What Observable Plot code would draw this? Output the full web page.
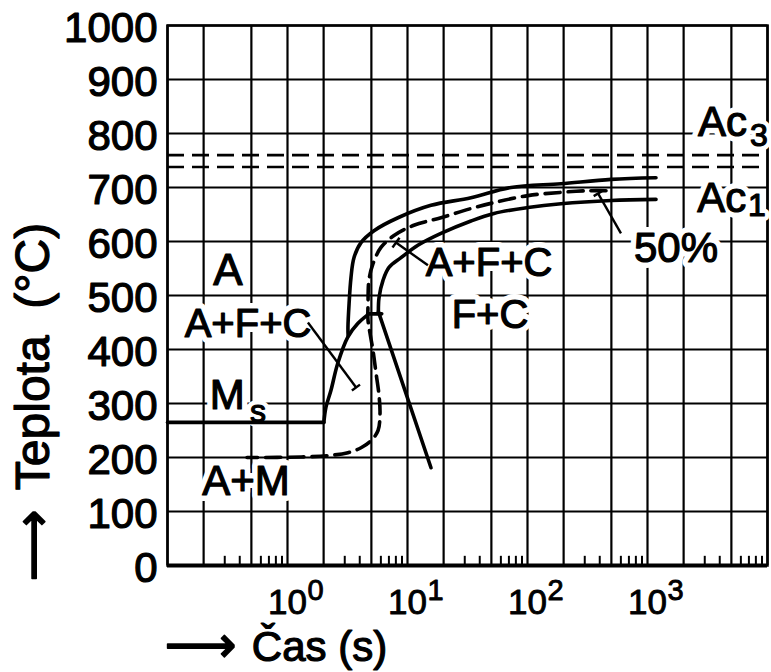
<!DOCTYPE html>
<html><head><meta charset="utf-8">
<script src="https://cdn.jsdelivr.net/npm/d3@7"></script>
<script src="https://cdn.jsdelivr.net/npm/@observablehq/plot@0.6"></script>
<style>body{margin:0;background:#fff}</style>
</head><body><div id="chart"></div>
<script>
// ---- axes ----
const tempTicks = [0,100,200,300,400,500,600,700,800,900,1000];
const timeGrid = [0.1,0.2,0.5,1,2,5,10,20,50,100,200,500,1000,2000,5000,10000];
const timeMinor = [0.3,0.4,0.6,0.7,0.8,0.9,3,4,6,7,8,9,30,40,60,70,80,90,300,400,600,700,800,900,3000,4000,6000,7000,8000,9000];
const decades = [1,10,100,1000];
const xTitle = "Čas (s)";
const yTitle = "Teplota\u00a0\u00a0(°C)";

// ---- critical temperatures ----
const Ac3 = 760, Ac1 = 738, Ms = 265;
const msTime = [0.1, 2.01];

// ---- transformation start (solid) ----
const startTime = [1177,497,190,72.9,33.8,15.7,8.33,5.26,4.10,3.58,3.38,3.26,3.19,3.2];
const startTemp = [718,715,707,700,681,667,644,620,598,570,533,485,441,425];

// ---- 50 % transformation (dashed) ----
const halfTime = [451,319,190,101,52.6,33.8,19.0,11.3,7.72,6.01,5.16,4.77,4.69,4.69,4.87,5.16,5.47,5.79,5.90,5.68,4.96,4.10,3.19,2.30,1.30,0.46];
const halfTemp = [694,694,691,685,672,661,644,630,611,589,559,528,485,454,430,398,356,315,281,250,231,218,209,204,201,200];

// ---- transformation end (solid) ----
const endTime = [1177,497,190,101,52.6,33.8,19.0,12.2,8.83,7.01,6.25,5.79,5.72];
const endTemp = [678,676,670,663,652,638,615,593,570,552,528,496,470];
const endLowTime = [5.72, 15.7];
const endLowTemp = [470, 181];

// ---- lower (bainitic) start curve ----
const bainTime = [2.01,2.09,2.30,2.62,3.18,3.85,4.66];
const bainTemp = [265,293,324,374,423,448,464];
const stubTime = [4.66, 6.1];
const stubTemp = [466, 466];

// ---- leader lines ----
const leadT1 = [1.48, 14.8, 601, 3.44, 7.5, 356];
const leadY1 = [450, 556, 615, 324, 589, 684];
const leadT2 = [3.72, 8.0, 387, 4.02, 8.58, 420];
const leadY2 = [330, 598, 689, 335, 607, 693.5];

// ---- region labels ----
const labelText = ["A","A+F+C","M","A+M","A+F+C","F+C","50%","Ac","Ac"];
const labelTime = [0.319,0.469,0.314,0.451,47.8,48.7,1728,4217,4160];
const labelTemp = [546,446,315,156,559,464,587,820,680];
const labelSize = [44,40,42,42,40,40,42,42,42];
const subText = ["s","3","1"];
const subTime = [0.568,8497,8177];
const subTemp = [285,796,667];

const pts = (ts, ys) => ts.map((t, i) => ({t, T: ys[i]}));
const labels = labelText.map((text, i) => ({text, t: labelTime[i], T: labelTemp[i], size: labelSize[i]}));
const subs = subText.map((text, i) => ({text, t: subTime[i], T: subTemp[i]}));
const leaders = leadT1.map((t1, i) => ({t1, y1: leadY1[i], t2: leadT2[i], y2: leadY2[i]}));

const font = "'Liberation Sans', Arial, sans-serif";
const lw = 3.6;
const ink = {fill: "black", stroke: "black", strokeWidth: 1.2};

const chart = Plot.plot({
  width: 771, height: 672,
  marginLeft: 167, marginTop: 25, marginRight: 4, marginBottom: 107,
  x: {type: "log", domain: [0.1, 10000], axis: null},
  y: {domain: [0, 1000], axis: null},
  style: {background: "white", fontFamily: font, color: "black"},
  marks: [
    Plot.ruleX(timeGrid, {stroke: "black", strokeWidth: 2.2}),
    Plot.ruleY(tempTicks, {stroke: "black", strokeWidth: 2.2}),
    Plot.ruleX(timeMinor, {y1: 0, y2: 17, stroke: "black", strokeWidth: 2}),
    Plot.ruleY([Ac3, Ac1], {stroke: "black", strokeWidth: 2.6, strokeDasharray: "17,8"}),
    Plot.ruleY([0], {stroke: "black", strokeWidth: 4}),
    Plot.frame({stroke: "black", strokeWidth: 2.5}),
    // label halos
    Plot.text(labels, {x: "t", y: "T", text: "text", fontSize: "size", fill: "white", stroke: "white", strokeWidth: 12, strokeLinejoin: "round"}),
    Plot.text(subs, {x: "t", y: "T", text: "text", fontSize: 32, fill: "white", stroke: "white", strokeWidth: 10, strokeLinejoin: "round"}),
    // curves
    Plot.line(pts(msTime, [Ms, Ms]), {x: "t", y: "T", stroke: "black", strokeWidth: lw}),
    Plot.line(pts(bainTime, bainTemp), {x: "t", y: "T", stroke: "black", strokeWidth: lw, curve: "catmull-rom"}),
    Plot.line(pts(stubTime, stubTemp), {x: "t", y: "T", stroke: "black", strokeWidth: lw}),
    Plot.line(pts(startTime, startTemp), {x: "t", y: "T", stroke: "black", strokeWidth: lw, curve: "catmull-rom"}),
    Plot.line(pts(halfTime, halfTemp), {x: "t", y: "T", stroke: "black", strokeWidth: lw, strokeDasharray: "15,8", curve: "catmull-rom"}),
    Plot.line(pts(endTime, endTemp), {x: "t", y: "T", stroke: "black", strokeWidth: lw, curve: "catmull-rom"}),
    Plot.line(pts(endLowTime, endLowTemp), {x: "t", y: "T", stroke: "black", strokeWidth: lw}),
    Plot.link(leaders, {x1: "t1", y1: "y1", x2: "t2", y2: "y2", stroke: "black", strokeWidth: 2.4}),
    // labels
    Plot.text(labels, {x: "t", y: "T", text: "text", fontSize: "size", ...ink}),
    Plot.text(subs, {x: "t", y: "T", text: "text", fontSize: 32, ...ink}),
    // y tick labels
    Plot.text(tempTicks, {y: d => d, frameAnchor: "left", text: d => String(d), textAnchor: "end", lineAnchor: "middle", dx: -10, dy: 3, fontSize: 42, ...ink}),
    // x tick labels 10^n
    Plot.text(decades, {x: d => d, frameAnchor: "bottom", text: () => "10", textAnchor: "middle", lineAnchor: "middle", dy: 37, fontSize: 35, ...ink, strokeWidth: 0.9}),
    Plot.text(decades, {x: d => d, frameAnchor: "bottom", text: d => String(Math.round(Math.log10(d))), textAnchor: "middle", lineAnchor: "middle", dx: 28, dy: 25, fontSize: 29, ...ink, strokeWidth: 0.9}),
    // axis titles
    Plot.text([xTitle], {frameAnchor: "bottom", text: d => d, textAnchor: "middle", lineAnchor: "middle", dx: -148, dy: 82, fontSize: 42, ...ink}),
    Plot.text(["⟶"], {frameAnchor: "bottom", text: d => d, textAnchor: "middle", lineAnchor: "middle", dx: -267, dy: 80, fontSize: 50, fontFamily: "DejaVu Sans", ...ink, strokeWidth: 1.6}),
    Plot.text([yTitle], {frameAnchor: "left", text: d => d, rotate: -90, textAnchor: "middle", lineAnchor: "middle", dx: -134, dy: 61, fontSize: 48, ...ink}),
    Plot.text(["⟶"], {frameAnchor: "left", text: d => d, rotate: -90, textAnchor: "middle", lineAnchor: "middle", dx: -134, dy: 250, fontSize: 50, fontFamily: "DejaVu Sans", ...ink, strokeWidth: 1.6})
  ]
});
document.getElementById("chart").appendChild(chart);
</script>
</body></html>
